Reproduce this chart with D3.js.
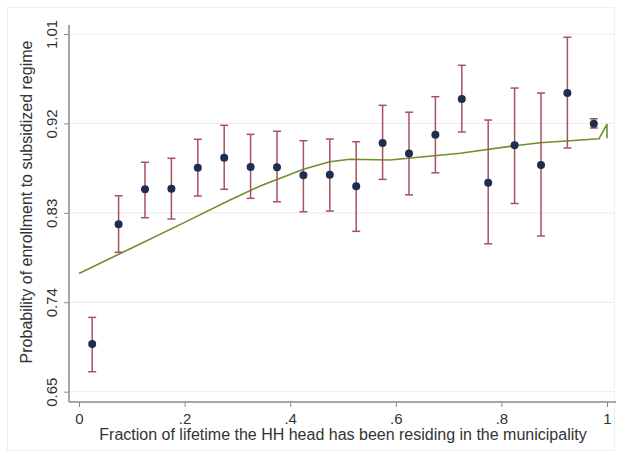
<!DOCTYPE html>
<html>
<script src='https://d3js.org/d3.v7.min.js'></script>
<style>
 body {margin:0; background:#fff;}
 text {font-family: Arial, 'Liberation Sans', sans-serif; fill:#333;}
</style>
<body onload='init()'>
<svg width=623 height=456>
</svg>
<script>

// binned means with confidence intervals
var binMid = [0.025,0.075,0.125,0.175,0.225,0.275,0.325,0.375,0.425,0.475,
              0.525,0.575,0.625,0.675,0.725,0.775,0.825,0.875,0.925,0.975];
var est = [0.698,0.8185,0.8537,0.8543,0.8754,0.8855,0.8761,0.8758,0.8678,0.8684,
           0.8567,0.9003,0.8897,0.9085,0.9446,0.8603,0.898,0.8781,0.9506,0.9197];
var hi  = [0.7248,0.8472,0.8809,0.8849,0.904,0.9181,0.909,0.9121,0.9026,0.9043,
           0.9016,0.9382,0.9313,0.9469,0.9785,0.9234,0.9556,0.9506,1.0067,0.9247];
var lo  = [0.6701,0.7903,0.8251,0.8238,0.8469,0.8537,0.8446,0.8412,0.8311,0.8318,
           0.8114,0.8637,0.8481,0.8703,0.9114,0.7989,0.8394,0.8067,0.8953,0.9154];

// fitted curve
var fitX = [0,0.1,0.2,0.286,0.343,0.381,0.425,0.475,0.513,0.589,0.722,0.826,0.873,0.985,1.0,1.0];
var fitY = [0.769,0.7947,0.8204,0.843,0.857,0.8648,0.8738,0.8815,0.8839,0.8832,0.890,0.8976,0.9005,0.9046,0.9194,0.905];

var yTicks = [0.65,0.74,0.83,0.92,1.01];
var xTicks = [0,0.2,0.4,0.6,0.8,1];

function init() {
 var svg = d3.select('svg');

 var x = d3.scaleLinear().domain([0,1]).range([79,607]);
 var y = d3.scaleLinear().domain([0.65,1.01]).range([391.7,34]);
 var left = 69, right = 616, top = 25, bottom = 402;

 // faint outer frame
 svg.append('rect').attr('x',7.5).attr('y',7.5).attr('width',607).attr('height',443)
  .attr('fill','none').attr('stroke','#eeeeee');

 // gridlines
 svg.append('g').selectAll('line').data(yTicks).enter().append('line')
  .attr('x1',left+1).attr('x2',right-1)
  .attr('y1',function(d){return y(d);}).attr('y2',function(d){return y(d);})
  .attr('stroke','#eeeeee').attr('stroke-width',1.2);

 // axes
 var ya = svg.append('g').attr('transform','translate('+left+',0)')
  .call(d3.axisLeft(y).tickValues(yTicks).tickSize(5).tickFormat(d3.format('.2f')));
 ya.select('.domain').attr('d','M0,'+top+'V'+bottom);
 var xa = svg.append('g').attr('transform','translate(0,'+bottom+')')
  .call(d3.axisBottom(x).tickValues(xTicks).tickSize(5)
   .tickFormat(function(d){return d==0?'0':d==1?'1':d3.format('.1f')(d).replace(/^0/,'');}));
 xa.select('.domain').attr('d','M'+left+',0H'+right);

 svg.selectAll('.domain').attr('stroke','#8a8a8a').attr('stroke-width',1.5);
 svg.selectAll('.tick line').attr('stroke','#8a8a8a');
 svg.selectAll('.tick text').attr('font-size',15).attr('fill','#333')
  .attr('font-family','Arial, Liberation Sans, sans-serif');
 ya.selectAll('.tick text').attr('transform','rotate(-90)')
  .attr('x',0).attr('y',-12.5).attr('dy','0').attr('text-anchor','middle');
 xa.selectAll('.tick text').attr('y',11);

 // axis titles
 svg.append('text').attr('transform','translate(32,202) rotate(-90)')
  .attr('text-anchor','middle').attr('font-size',16)
  .text('Probability of enrollment to subsidized regime');
 svg.append('text').attr('x',343).attr('y',440)
  .attr('text-anchor','middle').attr('font-size',16)
  .text('Fraction of lifetime the HH head has been residing in the municipality');

 // fitted line
 var line = d3.line().x(function(d){return x(d[0]);}).y(function(d){return y(d[1]);});
 svg.append('path').datum(d3.zip(fitX,fitY)).attr('d',line)
  .attr('fill','none').attr('stroke','#6f8f2e').attr('stroke-width',1.6);

 // error bars
 var eb = svg.append('g').attr('stroke','#a8505e').attr('stroke-width',1.5);
 binMid.forEach(function(m,i){
  eb.append('line').attr('x1',x(m)).attr('x2',x(m)).attr('y1',y(lo[i])).attr('y2',y(hi[i]));
  eb.append('line').attr('x1',x(m)-4).attr('x2',x(m)+4).attr('y1',y(lo[i])).attr('y2',y(lo[i]));
  eb.append('line').attr('x1',x(m)-4).attr('x2',x(m)+4).attr('y1',y(hi[i])).attr('y2',y(hi[i]));
 });

 // points
 svg.append('g').selectAll('circle').data(binMid).enter().append('circle')
  .attr('cx',function(d){return x(d);})
  .attr('cy',function(d,i){return y(est[i]);})
  .attr('r',4).attr('fill','#1e2d52');
}

</script>
</body>
</html>
